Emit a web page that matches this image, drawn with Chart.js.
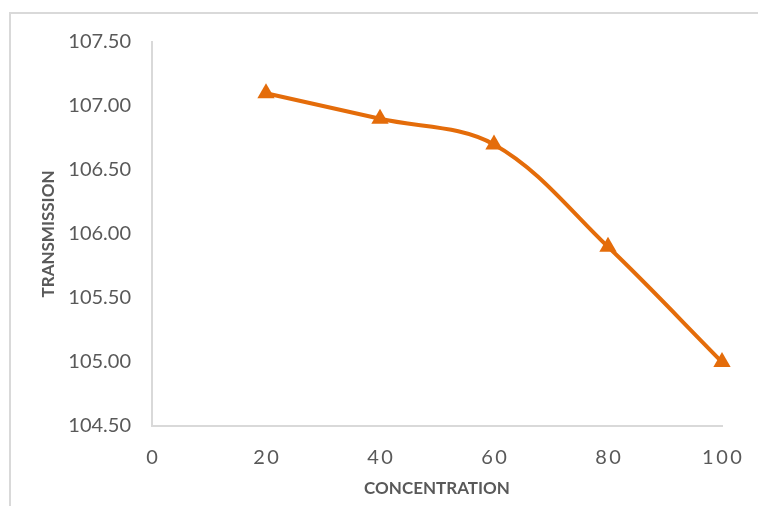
<!DOCTYPE html>
<html>
<head>
<meta charset="utf-8">
<script src="https://cdn.jsdelivr.net/npm/chart.js@4"></script>
<style>
  html, body { margin: 0; padding: 0; background: #fff; }
  #wrap { position: relative; width: 758px; height: 506px; overflow: hidden; }
  #frame { position: absolute; left: 9px; top: 12px; width: 800px; height: 600px;
           border-left: 2px solid #D9D9D9; border-top: 2px solid #D9D9D9; }
  canvas { position: absolute; left: 0; top: 0; }
</style>
</head>
<body>
<div id="wrap">
  <div id="frame"></div>
  <canvas id="myChart" width="758" height="506"></canvas>
</div>
<script>
const concentration = [20, 40, 60, 80, 100]
const transmission = [107.1, 106.9, 106.7, 105.9, 105.0]

const orange = '#E46C0A'
const grey = '#595959'
const axisGrey = '#D9D9D9'

const points = concentration.map((c, i) => ({ x: c, y: transmission[i] }))

const ctx = document.getElementById('myChart')
new Chart(ctx, {
    type: 'line',
    data: {
        datasets: [{
            data: points,
            borderColor: orange,
            backgroundColor: orange,
            borderWidth: 4,
            tension: 0.35,
            pointStyle: 'triangle',
            pointRadius: 10,
            pointHoverRadius: 10,
            pointBorderWidth: 0,
            clip: false
        }]
    },
    options: {
        responsive: false,
        animation: false,
        layout: { padding: { left: 38, right: 36, top: 42, bottom: 7 } },
        plugins: { legend: { display: false }, tooltip: { enabled: false } },
        scales: {
            x: {
                type: 'linear',
                min: 0,
                max: 100,
                afterFit: s => { s.height = 73; s.paddingRight = 0; s.paddingLeft = 0 },
                grid: { display: false, drawTicks: false },
                border: { display: true, color: axisGrey, width: 2 },
                ticks: {
                    stepSize: 20,
                    padding: 20,
                    color: grey,
                    font: { family: 'Lato', size: 20 },
                    callback: v => String(v).split('').join('\u2009')
                },
                title: {
                    display: true,
                    text: 'CONCENTRATION',
                    color: grey,
                    font: { family: 'Lato', size: 17, weight: 'bold' },
                    padding: 0
                }
            },
            y: {
                min: 104.5,
                max: 107.5,
                afterFit: s => { s.width = 114 },
                grid: { display: false, drawTicks: false },
                border: { display: true, color: axisGrey, width: 2 },
                ticks: {
                    stepSize: 0.5,
                    padding: 21,
                    color: grey,
                    font: { family: 'Lato', size: 20 },
                    callback: v => v.toFixed(2)
                },
                title: {
                    display: true,
                    text: 'TRANSMISSION',
                    color: grey,
                    font: { family: 'Lato', size: 17, weight: 'bold' },
                    padding: 0
                }
            }
        }
    }
})
</script>
</body>
</html>
